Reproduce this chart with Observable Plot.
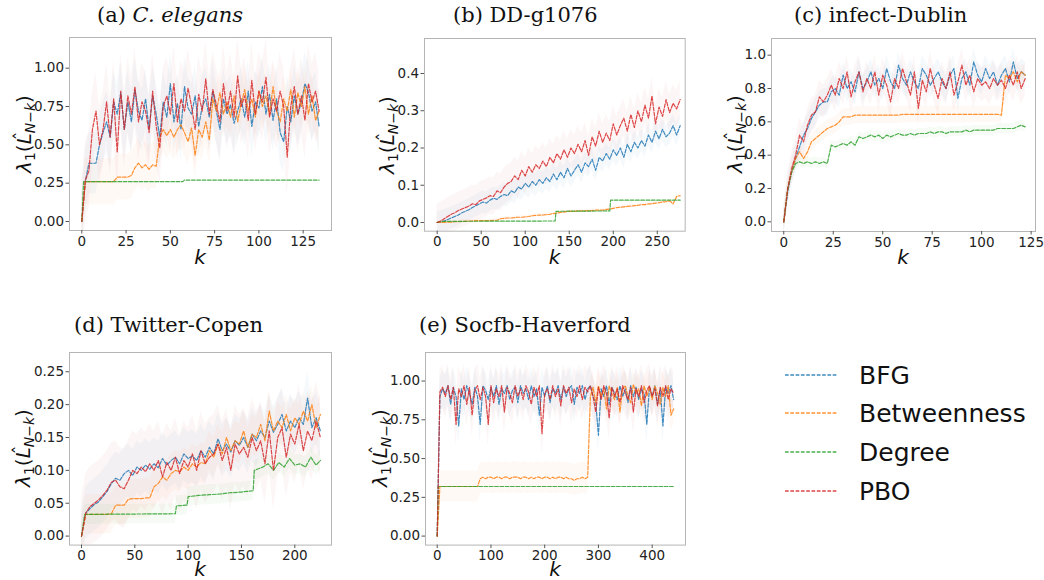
<!DOCTYPE html>
<html>
<head>
<meta charset="utf-8">
<script src="https://cdn.jsdelivr.net/npm/d3@7"></script>
<script src="https://cdn.jsdelivr.net/npm/@observablehq/plot@0.6"></script>
<style>
  body { margin: 0; background: #fff; }
  #root { position: relative; width: 1044px; height: 580px; overflow: hidden; background: #fff; }
  .abs { position: absolute; white-space: nowrap; line-height: 1; }
  .title { font-family: "DejaVu Serif", serif; font-size: 21px; color: #111; }
  .klab { font-family: "DejaVu Sans", sans-serif; font-style: italic; font-size: 20px; line-height: 0.5; color: #111; transform: translateX(-50%); }
  .ylab { font-family: "DejaVu Sans", sans-serif; font-size: 20px; color: #111; transform: translate(-50%, -50%) rotate(-90deg); }
  .ylab sub { font-size: 14px; vertical-align: -4px; line-height: 1; }
  .ylab .hatL { position: relative; display: inline-block; }
  .ylab .hat { position: absolute; left: 4px; top: -1px; font-style: normal; font-size: 17px; }
  .leg { font-family: "DejaVu Sans", sans-serif; font-size: 25px; color: #111; }
  svg.panel { position: absolute; overflow: visible; }
</style>
</head>
<body>
<div id="root"></div>
<script>
// ---------------- data ----------------
const seriesNames = ["BFG", "Betweenness", "Degree", "PBO"];
const seriesColors = ["#1f77b4", "#ff7f0e", "#2ca02c", "#d62728"];
const titles = ["(a) <i>C. elegans</i>", "(b) DD-g1076", "(c) infect-Dublin", "(d) Twitter-Copen", "(e) Socfb-Haverford"];

// (a) C. elegans
const kA = d3.range(0, 135, 2);
const bfgA = [
  0, 0.26, 0.38, 0.38, 0.38, 0.50, 0.58, 0.65, 0.55, 0.78,
  0.70, 0.84, 0.60, 0.78, 0.65, 0.86, 0.72, 0.66, 0.80, 0.60,
  0.82, 0.70, 0.55, 0.78, 0.68, 0.90, 0.65, 0.77, 0.60, 0.88,
  0.74, 0.70, 0.82, 0.62, 0.75, 0.80, 0.68, 0.85, 0.72, 0.60,
  0.80, 0.70, 0.76, 0.64, 0.72, 0.80, 0.68, 0.85, 0.62, 0.78,
  0.74, 0.88, 0.70, 0.83, 0.66, 0.80, 0.58, 0.52, 0.75, 0.65,
  0.82, 0.70, 0.78, 0.90, 0.84, 0.72, 0.78, 0.62];
const betA = [
  0, 0.26, 0.26, 0.26, 0.26, 0.26, 0.26, 0.26, 0.26, 0.26,
  0.29, 0.29, 0.29, 0.29, 0.30, 0.35, 0.38, 0.35, 0.37, 0.34,
  0.37, 0.36, 0.55, 0.60, 0.56, 0.60, 0.55, 0.60, 0.63, 0.58,
  0.52, 0.61, 0.43, 0.60, 0.55, 0.65, 0.53, 0.80, 0.72, 0.84,
  0.70, 0.78, 0.68, 0.82, 0.65, 0.77, 0.86, 0.72, 0.80, 0.68,
  0.85, 0.75, 0.82, 0.70, 0.88, 0.72, 0.65, 0.80, 0.72, 0.86,
  0.68, 0.84, 0.75, 0.88, 0.70, 0.82, 0.66, 0.72];
const degKA = [0, 1, 57, 58, 134];
const degA = [0, 0.26, 0.26, 0.27, 0.27];
const pboA = [
  0, 0.27, 0.33, 0.60, 0.72, 0.50, 0.60, 0.78, 0.55, 0.80,
  0.45, 0.85, 0.60, 0.82, 0.70, 0.88, 0.65, 0.78, 0.72, 0.58,
  0.85, 0.62, 0.48, 0.75, 0.82, 0.70, 0.90, 0.65, 0.80, 0.72,
  0.87, 0.75, 0.60, 0.83, 0.72, 0.93, 0.70, 0.86, 0.76, 0.65,
  0.90, 0.72, 0.85, 0.68, 0.95, 0.75, 0.82, 0.66, 0.92, 0.70,
  0.85, 0.78, 0.94, 0.68, 0.80, 0.72, 0.85, 0.75, 0.42, 0.75,
  0.88, 0.70, 0.82, 0.66, 0.90, 0.78, 0.85, 0.72];
const sdA = [0.20, 0.15, 0, 0.25];

// (b) DD-g1076
const kB = d3.range(0, 277, 4);
const bfgB = [
  0, 0.001, 0.004, 0.008, 0.012, 0.016, 0.020, 0.026, 0.030, 0.034,
  0.040, 0.045, 0.050, 0.055, 0.052, 0.060, 0.065, 0.062, 0.070, 0.075,
  0.072, 0.085, 0.080, 0.095, 0.090, 0.105, 0.095, 0.110, 0.100, 0.115,
  0.105, 0.120, 0.110, 0.130, 0.115, 0.135, 0.120, 0.145, 0.125, 0.140,
  0.155, 0.135, 0.160, 0.150, 0.170, 0.140, 0.175, 0.165, 0.185, 0.170,
  0.195, 0.180, 0.200, 0.175, 0.210, 0.190, 0.215, 0.200, 0.220, 0.205,
  0.235, 0.215, 0.245, 0.225, 0.250, 0.230, 0.240, 0.260, 0.235, 0.260];
const betB = [
  0, 0, 0, 0.001, 0.001, 0.002, 0.002, 0.003, 0.003, 0.004,
  0.004, 0.005, 0.005, 0.005, 0.005, 0.005, 0.006, 0.006, 0.010, 0.011,
  0.012, 0.012, 0.013, 0.014, 0.014, 0.015, 0.016, 0.018, 0.019, 0.020,
  0.020, 0.021, 0.022, 0.024, 0.025, 0.027, 0.028, 0.030, 0.030, 0.030,
  0.031, 0.031, 0.031, 0.032, 0.032, 0.033, 0.033, 0.033, 0.035, 0.036,
  0.038, 0.040, 0.041, 0.042, 0.043, 0.044, 0.045, 0.046, 0.048, 0.048,
  0.050, 0.050, 0.052, 0.053, 0.055, 0.056, 0.058, 0.050, 0.070, 0.072];
const degKB = [0, 4, 134, 135, 196, 197, 276];
const degB = [0, 0.003, 0.004, 0.030, 0.031, 0.060, 0.060];
const pboB = [
  0, 0.004, 0.010, 0.016, 0.022, 0.026, 0.032, 0.036, 0.040, 0.044,
  0.050, 0.048, 0.058, 0.062, 0.066, 0.072, 0.070, 0.085, 0.080, 0.095,
  0.105, 0.110, 0.125, 0.115, 0.140, 0.125, 0.150, 0.135, 0.155, 0.145,
  0.165, 0.150, 0.175, 0.160, 0.185, 0.170, 0.195, 0.175, 0.200, 0.185,
  0.210, 0.190, 0.220, 0.180, 0.230, 0.205, 0.245, 0.215, 0.240, 0.220,
  0.265, 0.235, 0.260, 0.280, 0.245, 0.290, 0.255, 0.300, 0.270, 0.315,
  0.280, 0.340, 0.265, 0.310, 0.285, 0.330, 0.295, 0.320, 0.305, 0.330];
const sdB = [0.03, 0.004, 0, 0.05];

// (c) infect-Dublin
const kC = d3.range(0, 123, 2);
const bfgC = [
  0, 0.18, 0.30, 0.38, 0.45, 0.52, 0.56, 0.62, 0.66, 0.70,
  0.72, 0.72, 0.78, 0.80, 0.76, 0.88, 0.80, 0.84, 0.78, 0.90,
  0.80, 0.84, 0.90, 0.82, 0.86, 0.80, 0.92, 0.84, 0.80, 0.94,
  0.86, 0.82, 0.90, 0.84, 0.80, 0.92, 0.88, 0.82, 0.86, 0.90,
  0.84, 0.80, 0.88, 0.92, 0.74, 0.86, 0.90, 0.82, 0.96, 0.88,
  0.84, 0.92, 0.86, 0.90, 0.82, 0.88, 0.92, 0.84, 0.96, 0.86,
  0.90, 0.88];
const betC = [
  0, 0.20, 0.30, 0.38, 0.42, 0.38, 0.42, 0.48, 0.50, 0.52,
  0.54, 0.56, 0.57, 0.58, 0.60, 0.63, 0.63, 0.63, 0.64, 0.64,
  0.64, 0.64, 0.64, 0.64, 0.64, 0.64, 0.64, 0.64, 0.64, 0.64,
  0.645, 0.645, 0.645, 0.645, 0.645, 0.645, 0.645, 0.645, 0.645, 0.645,
  0.645, 0.645, 0.645, 0.645, 0.645, 0.645, 0.645, 0.645, 0.645, 0.645,
  0.645, 0.645, 0.645, 0.645, 0.645, 0.64, 0.88, 0.86, 0.90, 0.84,
  0.90, 0.88];
const degC = [
  0, 0.20, 0.30, 0.35, 0.36, 0.35, 0.36, 0.35, 0.36, 0.35,
  0.36, 0.35, 0.46, 0.45, 0.46, 0.47, 0.46, 0.48, 0.46, 0.51,
  0.50, 0.51, 0.52, 0.51, 0.52, 0.50, 0.52, 0.51, 0.52, 0.53,
  0.52, 0.52, 0.53, 0.52, 0.53, 0.53, 0.53, 0.54, 0.53, 0.54,
  0.54, 0.53, 0.54, 0.54, 0.54, 0.54, 0.55, 0.54, 0.55, 0.55,
  0.55, 0.55, 0.55, 0.55, 0.56, 0.56, 0.56, 0.56, 0.56, 0.57,
  0.58, 0.57];
const pboC = [
  0, 0.20, 0.32, 0.40, 0.52, 0.48, 0.58, 0.64, 0.66, 0.75,
  0.72, 0.76, 0.82, 0.76, 0.86, 0.80, 0.90, 0.75, 0.84, 0.90,
  0.78, 0.86, 0.80, 0.90, 0.76, 0.88, 0.82, 0.72, 0.86, 0.80,
  0.92, 0.84, 0.76, 0.90, 0.68, 0.85, 0.78, 0.92, 0.82, 0.74,
  0.86, 0.80, 0.90, 0.76, 0.84, 0.94, 0.82, 0.88, 0.78, 0.86,
  0.82, 0.84, 0.80, 0.86, 0.82, 0.85, 0.80, 0.88, 0.82, 0.90,
  0.80, 0.86];
const sdC = [0.08, 0.05, 0.03, 0.10];

// (d) Twitter-Copen
const kD = d3.range(0, 225, 4);
const bfgD = [
  0, 0.035, 0.042, 0.048, 0.052, 0.060, 0.068, 0.080, 0.088, 0.085,
  0.095, 0.100, 0.092, 0.105, 0.100, 0.108, 0.102, 0.110, 0.104, 0.118,
  0.108, 0.115, 0.120, 0.110, 0.125, 0.118, 0.122, 0.115, 0.130, 0.120,
  0.135, 0.125, 0.148, 0.130, 0.140, 0.128, 0.145, 0.138, 0.150, 0.135,
  0.155, 0.145, 0.160, 0.150, 0.175, 0.158, 0.170, 0.185, 0.160, 0.175,
  0.165, 0.180, 0.170, 0.210, 0.165, 0.180, 0.160];
const betD = [
  0, 0.033, 0.033, 0.033, 0.033, 0.033, 0.033, 0.034, 0.047, 0.047,
  0.047, 0.056, 0.057, 0.057, 0.057, 0.058, 0.058, 0.075, 0.080, 0.090,
  0.085, 0.095, 0.100, 0.098, 0.105, 0.100, 0.110, 0.105, 0.112, 0.110,
  0.130, 0.120, 0.140, 0.125, 0.150, 0.130, 0.145, 0.140, 0.160, 0.135,
  0.155, 0.150, 0.170, 0.145, 0.190, 0.160, 0.175, 0.165, 0.185, 0.160,
  0.180, 0.170, 0.190, 0.175, 0.200, 0.165, 0.185];
const degKD = [0, 3, 88, 89, 99, 100, 110, 120, 130, 140, 150, 155, 161, 162, 170, 175, 180, 185, 190, 195, 200, 205, 210, 215, 220, 224];
const degD = [0, 0.033, 0.034, 0.046, 0.047, 0.060, 0.062, 0.063, 0.064, 0.066, 0.067, 0.068, 0.069, 0.100, 0.105, 0.110, 0.100, 0.112, 0.105, 0.118, 0.108, 0.110, 0.105, 0.120, 0.108, 0.115];
const pboD = [
  0, 0.035, 0.045, 0.050, 0.055, 0.062, 0.070, 0.082, 0.085, 0.075,
  0.072, 0.085, 0.100, 0.095, 0.105, 0.098, 0.110, 0.100, 0.115, 0.090,
  0.112, 0.100, 0.120, 0.095, 0.115, 0.105, 0.125, 0.100, 0.130, 0.110,
  0.120, 0.125, 0.140, 0.115, 0.135, 0.100, 0.140, 0.125, 0.135, 0.120,
  0.150, 0.130, 0.145, 0.110, 0.160, 0.100, 0.150, 0.165, 0.120, 0.155,
  0.140, 0.170, 0.130, 0.160, 0.145, 0.175, 0.150];
const sdD = [0.04, 0.03, 0.015, 0.06];

// (e) Socfb-Haverford
const kE = d3.range(0, 441, 5);
const bfgE = [
  0, 0.90, 0.95, 0.92, 0.97, 0.85, 0.96, 0.90, 0.71, 0.95,
  0.88, 0.97, 0.92, 0.85, 0.96, 0.90, 0.72, 0.97, 0.94, 0.88,
  0.96, 0.90, 0.97, 0.85, 0.95, 0.92, 0.97, 0.88, 0.94, 0.96,
  0.86, 0.97, 0.92, 0.95, 0.88, 0.97, 0.90, 0.95, 0.78, 0.96,
  0.90, 0.97, 0.86, 0.95, 0.92, 0.97, 0.88, 0.96, 0.90, 0.95,
  0.97, 0.85, 0.96, 0.92, 0.97, 0.88, 0.95, 0.97, 0.90, 0.86,
  0.65, 0.95, 0.90, 0.97, 0.85, 0.96, 0.92, 0.88, 0.97, 0.90,
  0.95, 0.86, 0.97, 0.90, 0.96, 0.88, 0.95, 0.92, 0.72, 0.96,
  0.90, 0.97, 0.85, 0.95, 0.71, 0.96, 0.92, 0.97, 0.88];
const betE = [
  0, 0.32, 0.32, 0.32, 0.32, 0.32, 0.32, 0.32, 0.32, 0.32,
  0.32, 0.32, 0.32, 0.32, 0.32, 0.32, 0.37, 0.38, 0.37, 0.38,
  0.38, 0.37, 0.38, 0.38, 0.37, 0.38, 0.38, 0.37, 0.38, 0.38,
  0.38, 0.37, 0.38, 0.38, 0.37, 0.38, 0.37, 0.38, 0.38, 0.37,
  0.38, 0.38, 0.37, 0.38, 0.37, 0.38, 0.38, 0.37, 0.38, 0.37,
  0.37, 0.36, 0.37, 0.37, 0.38, 0.37, 0.38, 0.90, 0.96, 0.86,
  0.97, 0.90, 0.95, 0.82, 0.97, 0.92, 0.88, 0.96, 0.80, 0.95,
  0.97, 0.90, 0.86, 0.98, 0.92, 0.95, 0.84, 0.97, 0.90, 0.96,
  0.88, 0.97, 0.92, 0.85, 0.96, 0.90, 0.97, 0.78, 0.82];
const degKE = [0, 2, 440];
const degE = [0, 0.32, 0.32];
const pboE = [
  0, 0.93, 0.96, 0.90, 0.97, 0.88, 0.96, 0.72, 0.95, 0.90,
  0.97, 0.85, 0.96, 0.78, 0.94, 0.97, 0.88, 0.96, 0.90, 0.72,
  0.97, 0.86, 0.95, 0.90, 0.97, 0.80, 0.96, 0.92, 0.86, 0.97,
  0.90, 0.95, 0.88, 0.97, 0.93, 0.85, 0.96, 0.90, 0.97, 0.66,
  0.92, 0.95, 0.88, 0.97, 0.90, 0.95, 0.84, 0.97, 0.92, 0.96,
  0.86, 0.95, 0.90, 0.97, 0.88, 0.96, 0.93, 0.97, 0.90, 0.80,
  0.96, 0.88, 0.97, 0.92, 0.76, 0.96, 0.90, 0.95, 0.86, 0.97,
  0.92, 0.88, 0.96, 0.80, 0.95, 0.90, 0.97, 0.86, 0.94, 0.97,
  0.90, 0.95, 0.84, 0.96, 0.90, 0.97, 0.88, 0.95, 0.92];
const sdE = [0.12, 0.10, 0, 0.14];

// tick values
const xTicksA = [0, 25, 50, 75, 100, 125];
const yTicksA = [0, 0.25, 0.5, 0.75, 1.0];
const xTicksB = [0, 50, 100, 150, 200, 250];
const yTicksB = [0, 0.1, 0.2, 0.3, 0.4];
const xTicksC = [0, 25, 50, 75, 100, 125];
const yTicksC = [0, 0.2, 0.4, 0.6, 0.8, 1.0];
const xTicksD = [0, 50, 100, 150, 200];
const yTicksD = [0, 0.05, 0.10, 0.15, 0.20, 0.25];
const xTicksE = [0, 100, 200, 300, 400];
const yTicksE = [0, 0.25, 0.5, 0.75, 1.0];

// ---------------- layout ----------------
const panels = [
  {L: 69, R: 331, T: 37, B: 230, xDom: [-6.95, 141], yDom: [-0.0587, 1.2], xTicks: xTicksA, yTicks: yTicksA, fmt: ".2f",
   series: [[kA, bfgA], [kA, betA], [degKA, degA], [kA, pboA]], sd: sdA, tx: 97, ty: 5, ylx: 25, kTop: 252},
  {L: 424.3, R: 685, T: 38.3, B: 231, xDom: [-14.4, 281.7], yDom: [-0.0234, 0.494], xTicks: xTicksB, yTicks: yTicksB, fmt: ".1f",
   series: [[kB, bfgB], [kB, betB], [degKB, degB], [kB, pboB]], sd: sdB, tx: 453, ty: 5, ylx: 388, kTop: 252},
  {L: 771, R: 1035, T: 37.7, B: 230.7, xDom: [-6.2, 127.2], yDom: [-0.058, 1.10], xTicks: xTicksC, yTicks: yTicksC, fmt: ".1f",
   series: [[kC, bfgC], [kC, betC], [kC, degC], [kC, pboC]], sd: sdC, tx: 794, ty: 5, ylx: 736, kTop: 252},
  {L: 69, R: 331, T: 351.7, B: 544.3, xDom: [-11.25, 234.4], yDom: [-0.0137, 0.2793], xTicks: xTicksD, yTicks: yTicksD, fmt: ".2f",
   series: [[kD, bfgD], [kD, betD], [degKD, degD], [kD, pboD]], sd: sdD, tx: 74, ty: 315, ylx: 24, kTop: 564},
  {L: 425, R: 685, T: 351.7, B: 544.3, xDom: [-21.8, 462], yDom: [-0.058, 1.184], xTicks: xTicksE, yTicks: yTicksE, fmt: ".2f",
   series: [[kE, bfgE], [kE, betE], [degKE, degE], [kE, pboE]], sd: sdE, tx: 419, ty: 315, ylx: 381, kTop: 564}
];

const root = document.getElementById("root");
const mL = 50, mR = 9, mT = 4, mB = 26;
const dash = "3.7,1.6";

panels.forEach((p, pi) => {
  const bands = [], lines = [];
  p.series.forEach(([ks, vs], si) => {
    const rows = vs.map((v, i) => ({k: ks[i], v, lo: v - p.sd[si], hi: v + p.sd[si]}));
    if (p.sd[si] > 0) {
      bands.push(Plot.areaY(rows, {x: "k", y1: "lo", y2: "hi", fill: seriesColors[si], fillOpacity: 0.045, clip: true}));
    }
    lines.push(Plot.line(rows, {x: "k", y: "v", stroke: seriesColors[si], strokeWidth: 1.2, strokeOpacity: 0.85, strokeDasharray: dash, clip: true}));
  });
  const w = p.R - p.L + mL + mR, h = p.B - p.T + mT + mB;
  const svg = Plot.plot({
    width: w, height: h,
    marginLeft: mL, marginRight: mR, marginTop: mT, marginBottom: mB,
    x: {domain: p.xDom}, y: {domain: p.yDom},
    style: {fontFamily: "DejaVu Sans, sans-serif", background: "transparent", overflow: "visible"},
    marks: [
      ...bands, ...lines,
      Plot.frame({stroke: "#b5b5b5", strokeWidth: 1}),
      Plot.axisX(p.xTicks, {tickSize: 3.5, tickPadding: 2, stroke: "#555", fill: "#222", fontSize: 13.5, label: null}),
      Plot.axisY(p.yTicks, {tickSize: 3.5, tickPadding: 2, stroke: "#555", fill: "#222", fontSize: 13.5, label: null, tickFormat: d3.format(p.fmt)})
    ]
  });
  svg.classList.add("panel");
  svg.style.left = (p.L - mL) + "px";
  svg.style.top = (p.T - mT) + "px";
  svg.style.maxWidth = "none";
  root.appendChild(svg);

  const t = document.createElement("div");
  t.className = "abs title";
  t.innerHTML = titles[pi];
  t.style.left = p.tx + "px"; t.style.top = p.ty + "px";
  root.appendChild(t);

  const kl = document.createElement("div");
  kl.className = "abs klab";
  kl.textContent = "k";
  kl.style.left = ((p.L + p.R) / 2) + "px";
  kl.style.top = p.kTop + "px";
  root.appendChild(kl);

  const yl = document.createElement("div");
  yl.className = "abs ylab";
  yl.innerHTML = "<i>λ</i><sub>1</sub>(<span class='hatL'><i>L</i><span class='hat'>ˆ</span></span><sub><i>N</i>&#8722;<i>k</i></sub>)";
  yl.style.left = p.ylx + "px";
  yl.style.top = ((p.T + p.B) / 2) + "px";
  root.appendChild(yl);
});

// legend
const legTops = [375, 413.3, 451.7, 490.5];
seriesNames.forEach((name, i) => {
  const sw = document.createElementNS("http://www.w3.org/2000/svg", "svg");
  sw.setAttribute("width", 60); sw.setAttribute("height", 6);
  sw.style.position = "absolute"; sw.style.left = "782px"; sw.style.top = (legTops[i] - 3) + "px";
  const ln = document.createElementNS("http://www.w3.org/2000/svg", "line");
  ln.setAttribute("x1", 3); ln.setAttribute("x2", 56); ln.setAttribute("y1", 3); ln.setAttribute("y2", 3);
  ln.setAttribute("stroke", seriesColors[i]); ln.setAttribute("stroke-width", 1.3);
  ln.setAttribute("stroke-opacity", 0.85); ln.setAttribute("stroke-dasharray", dash);
  sw.appendChild(ln);
  root.appendChild(sw);
  const tx = document.createElement("div");
  tx.className = "abs leg";
  tx.textContent = name;
  tx.style.left = "859px";
  tx.style.top = (legTops[i] + 9.3 - 21.2) + "px";
  root.appendChild(tx);
});
</script>
</body>
</html>
